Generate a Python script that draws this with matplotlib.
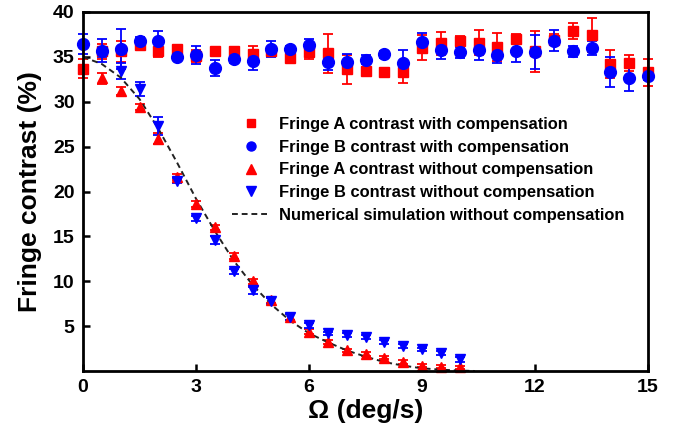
import numpy as np
import matplotlib
matplotlib.use('Agg')
import matplotlib.pyplot as plt
from matplotlib.lines import Line2D

plt.rcParams['font.family'] = ['Liberation Sans', 'DejaVu Sans']
plt.rcParams['font.weight'] = 'bold'

# rotation rate (deg/s)
omega = [0, 0.5, 1, 1.5, 2, 2.5, 3, 3.5, 4, 4.5, 5, 5.5, 6, 6.5, 7, 7.5, 8,
         8.5, 9, 9.5, 10, 10.5, 11, 11.5, 12, 12.5, 13, 13.5, 14, 14.5, 15]

# with compensation
a_comp = [33.7, 35.6, 35.6, 36.3, 35.7, 35.9, 35.1, 35.7, 35.7, 35.3, 35.6,
          34.9, 35.5, 35.4, 33.6, 33.4, 33.3, 33.3, 36.0, 36.5, 36.8, 36.6,
          36.1, 37.0, 35.6, 36.9, 37.9, 37.4, 34.2, 34.3, 33.3]
a_comp_err = [1.1, 0.8, 1.2, 0.4, 0.7, 0.3, 0.7, 0.3, 0.4, 0.9, 0.5, 0.3, 0.7,
              2.2, 1.6, 0.3, 0.4, 1.2, 1.4, 1.3, 0.5, 1.4, 1.6, 0.5, 2.3, 0.6,
              0.9, 1.9, 1.6, 0.9, 1.5]
b_comp = [36.4, 35.7, 35.9, 36.8, 36.8, 35.0, 35.2, 33.8, 34.8, 34.5, 35.9,
          35.9, 36.3, 34.4, 34.4, 34.7, 35.3, 34.3, 36.7, 35.8, 35.5, 35.8,
          35.2, 35.7, 35.5, 36.8, 35.6, 36.0, 33.3, 32.7, 32.9]
b_comp_err = [1.1, 1.3, 2.2, 0.4, 1.1, 0.3, 1.0, 0.9, 0.5, 1.0, 0.9, 0.3, 0.7,
              0.9, 0.9, 0.5, 0.4, 1.5, 1.0, 1.0, 0.6, 1.1, 0.9, 1.3, 1.9, 1.2,
              0.6, 0.8, 1.7, 1.5, 0.5]

# without compensation
omega_nc = [0.5, 1, 1.5, 2, 2.5, 3, 3.5, 4, 4.5, 5, 5.5, 6, 6.5, 7, 7.5, 8,
            8.5, 9, 9.5, 10]
a_nc = [32.6, 31.2, 29.4, 25.9, 21.6, 18.6, 16.0, 12.8, 10.0, 7.9, 6.0, 4.4,
        3.2, 2.3, 1.9, 1.5, 1.0, 0.6, 0.5, 0.4]
a_nc_err = [0.6, 0.4, 0.3, 0.6, 0.3, 0.3, 0.3, 0.3, 0.3, 0.3, 0.3, 0.3, 0.2,
            0.2, 0.2, 0.2, 0.2, 0.2, 0.2, 0.2]
b_nc = [35.5, 33.4, 31.4, 27.3, 21.2, 17.0, 14.6, 11.1, 9.0, 7.8, 6.0, 5.1,
        4.2, 4.0, 3.8, 3.2, 2.8, 2.4, 2.0, 1.3]
b_nc_err = [0.5, 0.9, 0.8, 1.0, 0.3, 0.3, 0.4, 0.3, 0.4, 0.3, 0.3, 0.3, 0.2,
            0.2, 0.2, 0.2, 0.2, 0.2, 0.2, 0.3]

# numerical simulation
sim_x = [0, 0.5, 1, 1.5, 2, 2.5, 3, 3.5, 4, 4.5, 5, 5.5, 6, 6.5, 7, 7.5, 8,
         8.5, 9, 9.5, 10, 10.4]
sim_y = [35.0, 34.2, 32.7, 30.3, 27.0, 23.2, 19.2, 15.6, 12.3, 9.6, 7.4, 5.6,
         4.2, 3.2, 2.3, 1.6, 1.0, 0.6, 0.3, 0.15, 0.05, 0.0]

labels = ['Fringe A contrast with compensation',
          'Fringe B contrast with compensation',
          'Fringe A contrast without compensation',
          'Fringe B contrast without compensation',
          'Numerical simulation without compensation']

fig = plt.figure(figsize=(6.81, 4.29), dpi=100)
ax = fig.add_axes([83 / 681, 58 / 429, 565 / 681, 359 / 429])

eb = dict(linestyle='', capsize=3.5, elinewidth=1.3, capthick=1.3, clip_on=False)
ax.errorbar(omega, a_comp, yerr=a_comp_err, marker='s', ms=7, color='#ff0000', **eb)
ax.errorbar(omega, b_comp, yerr=b_comp_err, marker='o', ms=8.5, color='#0000ff', **eb)
ax.errorbar(omega_nc, a_nc, yerr=a_nc_err, marker='^', ms=7.5, color='#ff0000', **eb)
ax.errorbar(omega_nc, b_nc, yerr=b_nc_err, marker='v', ms=7.5, color='#0000ff', **eb)
ax.plot(sim_x, sim_y, color='#222222', ls=(0, (3, 2)), lw=1.4)

ax.set_xlim(0, 15)
ax.set_ylim(0, 40)
ax.set_xticks([0, 3, 6, 9, 12, 15])
ax.set_yticks([5, 10, 15, 20, 25, 30, 35, 40])
ax.tick_params(direction='in', length=5, width=1.8, labelsize=14, pad=6)
for lab in ax.get_xticklabels() + ax.get_yticklabels():
    lab.set_fontweight('bold')
for s in ax.spines.values():
    s.set_linewidth(2)

ax.set_xlabel('Ω (deg/s)', fontsize=19, fontweight='bold', labelpad=2)
ax.set_ylabel('Fringe contrast (%)', fontsize=19, fontweight='bold', labelpad=8)

handles = [
    Line2D([], [], ls='', marker='s', ms=6, color='#ff0000'),
    Line2D([], [], ls='', marker='o', ms=6.5, color='#0000ff'),
    Line2D([], [], ls='', marker='^', ms=6.5, color='#ff0000'),
    Line2D([], [], ls='', marker='v', ms=6.5, color='#0000ff'),
    Line2D([], [], color='#222222', ls=(0, (3, 2)), lw=1.4),
]
leg = ax.legend(handles, labels, loc='upper left', bbox_to_anchor=(0.264, 0.707),
                frameon=False, fontsize=11.9, numpoints=1, handlelength=2.3,
                handletextpad=0.55, labelspacing=0.46, borderpad=0, borderaxespad=0)
for t in leg.get_texts():
    t.set_fontweight('bold')

fig.savefig('out.png', dpi=100)
